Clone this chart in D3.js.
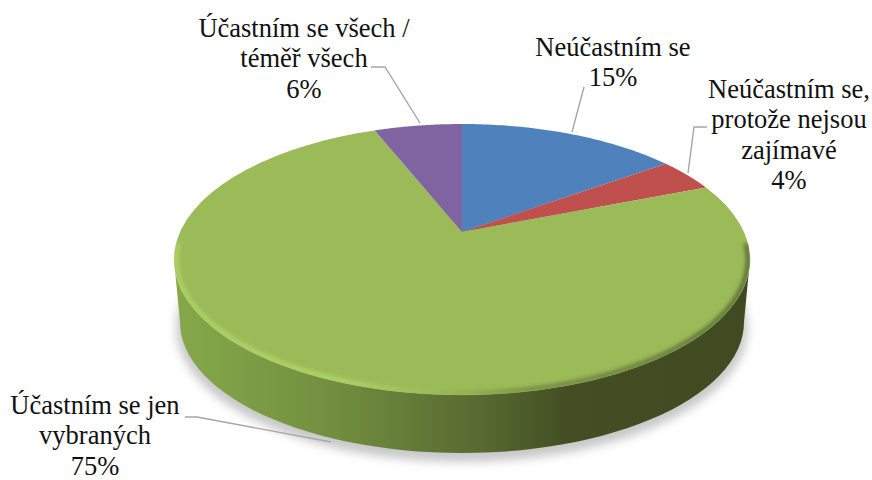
<!DOCTYPE html>
<html><head><meta charset="utf-8">
<script src="https://cdn.jsdelivr.net/npm/d3@7"></script>
<style>html,body{margin:0;padding:0;background:#fff}svg{display:block}</style>
</head><body><svg id="c" width="872" height="480"></svg>
<script>
const categories = ["Neúčastním se","Neúčastním se, protože nejsou zajímavé","Účastním se jen vybraných","Účastním se všech / téměř všech"];
const values = [15,4,75,6];
const colors = ["#4f81bd","#c0504d","#9bbb59","#8064a2"];
const labelLines = [["Neúčastním se","15%"],["Neúčastním se,","protože nejsou","zajímavé","4%"],["Účastním se jen","vybraných","75%"],["Účastním se všech /","téměř všech","6%"]];
const labelAnchors = [[613,56],[789,98],[95,414],[304,37]];
const leaders = [[[572,132],[584,87]],[[688,173],[694,127],[707,127]],[[331,442],[197,417],[185,417]],[[420,123],[385,67],[371,67]]];

const svg = d3.select("#c");
const cx=462, cy=232, a=282, b=129.9, p=0.203;
const project = t => { const u=Math.sin(t), v=-Math.cos(t), w=1-p*v; return [cx+a*u/w, cy+b*v/w]; };
const pie = d3.pie().sort(null).value(d=>d);
const arcs = pie(values);
const samples = (t0,t1) => d3.range(0,61).map(i=>t0+(t1-t0)*i/60);
const line = d3.line();
const defs = svg.append("defs");

const blur=(id,s)=>defs.append("filter").attr("id",id).attr("x","-20%").attr("y","-20%").attr("width","140%").attr("height","140%")
  .append("feGaussianBlur").attr("stdDeviation",s);
blur("b6",5); blur("b2",2); blur("b1",1.1);

const sideGrad=defs.append("linearGradient").attr("id","side").attr("gradientUnits","userSpaceOnUse")
  .attr("x1",174).attr("x2",750).attr("y1",0).attr("y2",0);
[[0,"#86a84a"],[0.12,"#7d9e45"],[0.3,"#6f8c3e"],[0.45,"#5f7535"],[0.55,"#55672e"],[0.68,"#434f23"],[1,"#3f4a20"]]
 .forEach(s=>sideGrad.append("stop").attr("offset",s[0]).attr("stop-color",s[1]));
const rimGrad=defs.append("linearGradient").attr("id","rim").attr("gradientUnits","userSpaceOnUse")
  .attr("x1",174).attr("x2",750).attr("y1",0).attr("y2",0);
[[0,"#b4dc68"],[0.3,"#b6e06c"],[0.5,"#8fae52"],[0.62,"#667c38"],[1,"#47532a"]]
 .forEach(s=>rimGrad.append("stop").attr("offset",s[0]).attr("stop-color",s[1]));

const ell=(x,y,rx,ry,t0,t1)=>samples(t0,t1).map(t=>[x+rx*Math.cos(t),y+ry*Math.sin(t)]);
svg.append("path").attr("d",line(ell(462,328,286,134,0,2*Math.PI))+"Z").attr("fill","#b5b5b5").attr("opacity",.75).attr("filter","url(#b6)");
const low=ell(462,322,282,131,Math.PI,0);
const topFront=ell(462,259.5,288,135.5,0,Math.PI);
svg.append("path").attr("d",line(low.concat(topFront))+"Z").attr("fill","url(#side)");
svg.selectAll("path.s").data(arcs).join("path").attr("class","s")
  .attr("d",d=>line([[cx,cy]].concat(samples(d.startAngle,d.endAngle).map(project)))+"Z")
  .attr("fill",(d,i)=>colors[i]);
defs.append("clipPath").attr("id","topClip").append("path").attr("d",line(ell(462,259.5,288.5,136,0,2*Math.PI))+"Z");
svg.append("path").attr("d",line(ell(462,259.5,286,133.5,-0.12,Math.PI+0.12))).attr("fill","none")
  .attr("stroke","url(#rim)").attr("stroke-width",3.5).attr("filter","url(#b2)").attr("clip-path","url(#topClip)");
svg.selectAll("path.l").data(leaders).join("path").attr("class","l").attr("d",d=>line(d))
  .attr("fill","none").attr("stroke","#a6a6a6").attr("stroke-width",1.4);
const g=svg.selectAll("text.t").data(labelLines).join("text").attr("class","t").attr("text-anchor","middle")
  .attr("font-family","'Liberation Serif','Times New Roman','DejaVu Serif',serif").attr("font-size",26.5).attr("fill","#111")
  .attr("x",(d,i)=>labelAnchors[i][0]).attr("y",(d,i)=>labelAnchors[i][1]);
g.selectAll("tspan").data(d=>d).join("tspan")
  .attr("x",function(){return d3.select(this.parentNode).attr("x");})
  .attr("dy",(d,i)=>i?30.4:0).text(d=>d);
</script></body></html>
